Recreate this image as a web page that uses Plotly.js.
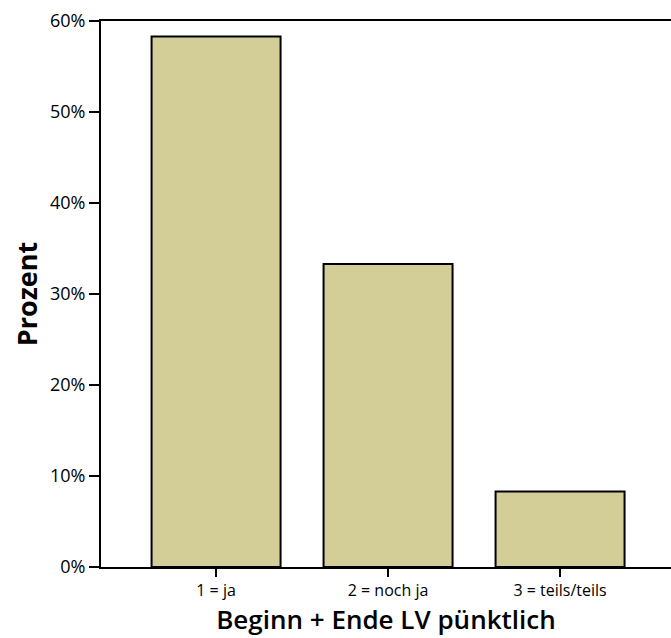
<!DOCTYPE html>
<html>
<head>
<meta charset="utf-8">
<script src="https://cdn.plot.ly/plotly-3.0.1.min.js"></script>
<style>html,body{margin:0;padding:0;background:#fff}#chart{width:671px;height:638px}</style>
</head>
<body>
<div id="chart"></div>
<script>
const categories = ["1 = ja", "2 = noch ja", "3 = teils/teils"];
const percentValues = [58.3, 33.3, 8.3];
const yTickValues = [0, 10, 20, 30, 40, 50, 60];
const yTickLabels = ["0%", "10%", "20%", "30%", "40%", "50%", "60%"];

const fam = "Open Sans, Noto Sans, sans-serif";

Plotly.newPlot("chart", [{
  type: "bar",
  x: categories,
  y: percentValues,
  width: 0.75,
  marker: {color: "#d3cd98", line: {color: "#000", width: 2}},
  hoverinfo: "none"
}], {
  width: 671, height: 638,
  margin: {l: 101, r: 0, t: 21, b: 71},
  paper_bgcolor: "#fff", plot_bgcolor: "#fff",
  showlegend: false,
  xaxis: {
    type: "category",
    range: [-0.669, 2.645],
    showline: true, linecolor: "#000", linewidth: 2, mirror: true,
    ticks: "outside", ticklen: 8, tickwidth: 2, tickcolor: "#000",
    showgrid: false, zeroline: false,
    tickfont: {family: fam, size: 16, color: "#000"},
    title: {text: "Beginn + Ende LV pünktlich", font: {family: fam, size: 26, color: "#000", weight: 600}, standoff: 0}
  },
  yaxis: {
    range: [0, 60],
    tickvals: yTickValues, ticktext: yTickLabels,
    showline: true, linecolor: "#000", linewidth: 2, mirror: false,
    ticks: "outside", ticklen: 10, tickwidth: 2, tickcolor: "#000",
    showgrid: false, zeroline: false,
    tickfont: {family: fam, size: 18, color: "#000"},
    title: {text: "Prozent", font: {family: fam, size: 27, color: "#000", weight: 700}, standoff: 4}
  }
}, {displayModeBar: false, staticPlot: true});
</script>
</body>
</html>
